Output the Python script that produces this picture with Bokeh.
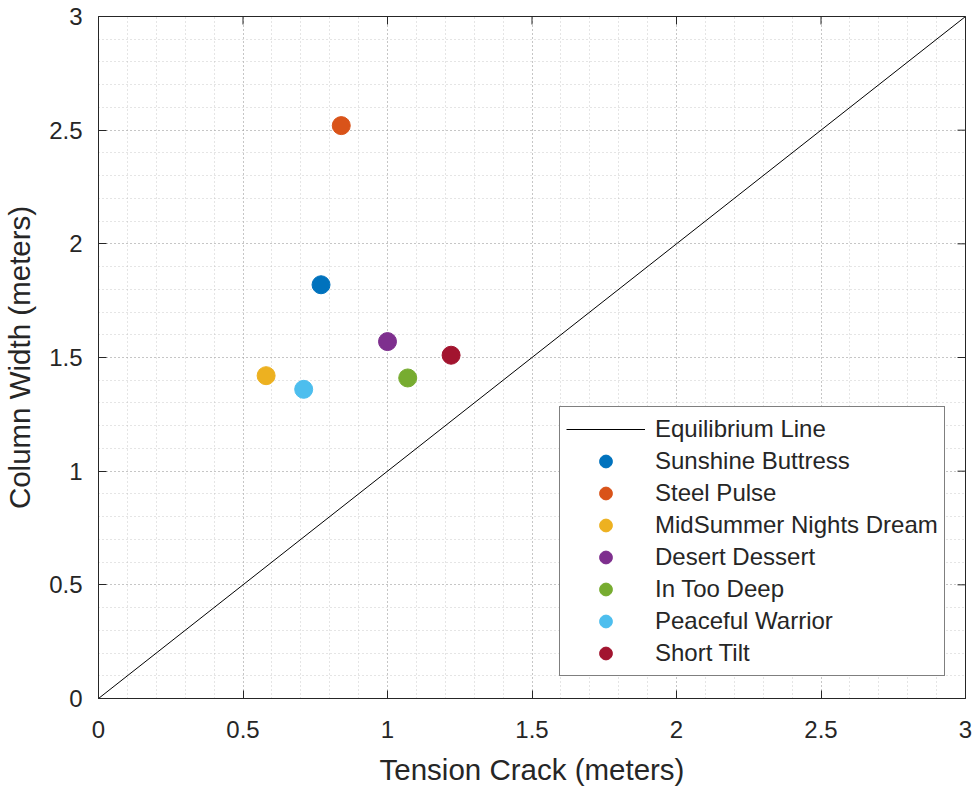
import math
from bokeh.plotting import figure
from bokeh.models import (FixedTicker, Legend, LegendItem, Range1d)
from bokeh.embed import file_html
from bokeh.resources import INLINE

# ---- data ----
names = ["Sunshine Buttress", "Steel Pulse", "MidSummer Nights Dream",
         "Desert Dessert", "In Too Deep", "Peaceful Warrior", "Short Tilt"]
tension_crack = [0.77, 0.84, 0.58, 1.00, 1.07, 0.71, 1.22]
column_width = [1.82, 2.52, 1.42, 1.57, 1.41, 1.36, 1.51]
colors = ["#0072BD", "#D95319", "#EDB120", "#7E2F8E", "#77AC30", "#4DBEEE", "#A2142F"]
equil_x = [0, 3]
equil_y = [0, 3]
axis_max = 3
tick_values = [0, 0.5, 1, 1.5, 2, 2.5, 3]
tick_labels = ["0", "0.5", "1", "1.5", "2", "2.5", "3"]
minor_values = [i / 10 for i in range(0, 31)]

TXT = "#262626"
FONT = "Liberation Sans"

p = figure(width=976, height=788, output_backend="svg", toolbar_location=None,
           x_range=Range1d(0, axis_max), y_range=Range1d(0, axis_max),
           min_border_left=97, min_border_right=11, min_border_top=16, min_border_bottom=88)
p.outline_line_color = TXT
p.outline_line_width = 1
p.background_fill_color = "white"

overrides = {v: s for v, s in zip(tick_values, tick_labels)}

def style_axis(ax):
    ax.ticker = FixedTicker(ticks=tick_values, minor_ticks=minor_values)
    ax.major_tick_in = 8
    ax.major_tick_out = 0
    ax.minor_tick_line_color = None
    ax.axis_line_color = TXT
    ax.major_tick_line_color = TXT
    ax.major_label_overrides = overrides
    ax.major_label_text_color = TXT
    ax.major_label_text_font = FONT
    ax.major_label_text_font_size = "24px"
    ax.axis_label_text_font = FONT
    ax.axis_label_text_color = TXT
    ax.axis_label_text_font_style = "normal"
    ax.axis_label_text_font_size = "29.5px"

xa = p.xaxis[0]
ya = p.yaxis[0]
style_axis(xa)
style_axis(ya)
xa.axis_label = "Tension Crack (meters)"
ya.axis_label = "Column Width (meters)"
xa.major_label_standoff = 18
ya.major_label_standoff = 12
xa.axis_label_standoff = 12
ya.axis_label_standoff = 10

for g in (p.xgrid[0], p.ygrid[0]):
    g.ticker = FixedTicker(ticks=tick_values, minor_ticks=minor_values)
    g.grid_line_color = "#9a9a9a"
    g.grid_line_dash = "1 3"
    g.grid_line_alpha = 0.8
    g.minor_grid_line_color = "#b5b5b5"
    g.minor_grid_line_dash = "1 3"
    g.minor_grid_line_alpha = 0.7

# inward ticks on the top and right edges of the box
p.scatter(tick_values, [axis_max] * len(tick_values), marker="dash", size=16,
          angle=math.pi / 2, line_color=TXT, line_width=1)
p.scatter([axis_max] * len(tick_values), tick_values, marker="dash", size=16,
          line_color=TXT, line_width=1)

items = []
line_r = p.line(equil_x, equil_y, line_color="black", line_width=1)
items.append(LegendItem(label="Equilibrium Line", renderers=[line_r]))
for n, xv, yv, c in zip(names, tension_crack, column_width, colors):
    r = p.scatter([xv], [yv], size=18, fill_color=c, line_color=c)
    items.append(LegendItem(label=n, renderers=[r]))

legend = Legend(items=items, location=(461, 22))
legend.border_line_color = "black"
legend.border_line_width = 1
legend.background_fill_color = "white"
legend.background_fill_alpha = 1
legend.margin = 0
legend.padding = 6
legend.spacing = 0
legend.glyph_width = 79
legend.glyph_height = 32
legend.label_height = 32
legend.label_standoff = 10
legend.label_text_font = FONT
legend.label_text_font_size = "24px"
legend.label_text_color = TXT
p.add_layout(legend, "center")

open("out.html", "w").write(file_html(p, INLINE))
